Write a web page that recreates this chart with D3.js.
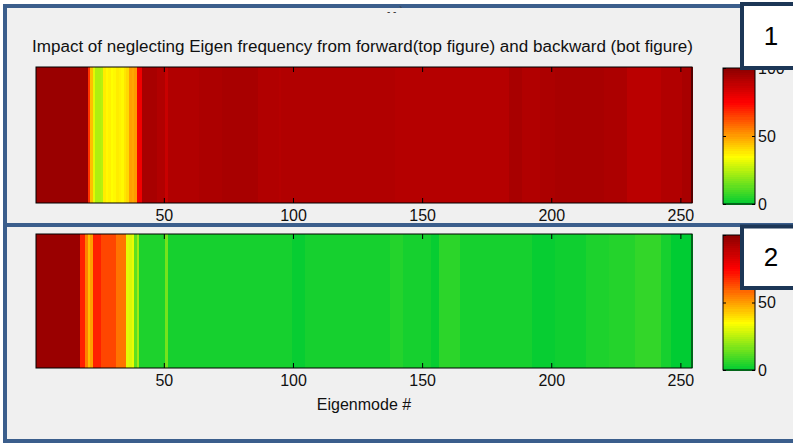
<!DOCTYPE html>
<html>
<head>
<meta charset="utf-8">
<script src="https://cdn.jsdelivr.net/npm/d3@7"></script>
<style>
  body { margin: 0; background: #fff; }
  svg { display: block; font-family: "Liberation Sans", Arial, sans-serif; }
</style>
</head>
<body>
<svg width="793" height="443"></svg>
<script>
// impact (%) per eigenmode, forward problem (top strip)
const forward = [
  97, 97, 97, 97, 97, 97, 97, 97, 97, 97,
  97, 97, 97, 97, 97, 97, 97, 97, 97, 97,
  67, 45, 31, 24, 24, 25, 38, 36, 37, 35,
  36, 38, 37, 36, 39, 41, 50, 49, 51, 77,
  78, 94, 94, 94, 94, 94, 94, 92, 92, 92,
  87, 92, 92, 92, 92, 92, 92, 92, 92, 92,
  92, 92, 92, 93, 93, 93, 93, 93, 93, 93,
  93, 93, 94, 94, 94, 94, 94, 94, 94, 94,
  94, 94, 94, 94, 94, 94, 92, 92, 92, 92,
  92, 92, 92, 92, 91, 92, 92, 92, 92, 92,
  92, 92, 92, 92, 92, 92, 92, 92, 92, 92,
  92, 92, 92, 92, 92, 92, 92, 92, 92, 92,
  92, 92, 92, 92, 92, 92, 92, 92, 92, 92,
  92, 92, 92, 92, 92, 92, 92, 92, 92, 91,
  91, 91, 91, 91, 91, 91, 91, 91, 91, 91,
  91, 91, 91, 91, 91, 91, 91, 91, 91, 91,
  91, 91, 91, 91, 91, 91, 91, 91, 91, 91,
  91, 91, 91, 91, 91, 91, 91, 91, 91, 91,
  91, 91, 91, 94, 94, 94, 94, 94, 92, 92,
  92, 92, 92, 92, 92, 93, 93, 93, 93, 93,
  93, 94, 94, 94, 94, 94, 94, 94, 94, 94,
  94, 94, 94, 94, 94, 94, 94, 94, 94, 94,
  93, 93, 93, 93, 93, 93, 93, 93, 93, 90,
  90, 90, 90, 90, 90, 90, 90, 90, 90, 90,
  90, 90, 92, 92, 92, 92, 92, 92, 92, 92,
  94, 94, 94, 94
];

// impact (%) per eigenmode, backward problem (bottom strip)
const backward = [
  97, 97, 97, 97, 97, 97, 97, 97, 97, 97,
  97, 97, 97, 97, 97, 97, 97, 70, 70, 55,
  45, 50, 70, 70, 70, 64, 64, 64, 64, 64,
  64, 57, 57, 57, 57, 31, 30, 32, 13, 22,
  4, 4, 4, 4, 4, 4, 4, 4, 4, 4,
  16, 3, 3, 3, 3, 3, 3, 3, 3, 3,
  3, 3, 3, 3, 3, 3, 3, 3, 3, 3,
  3, 3, 3, 3, 3, 3, 3, 3, 3, 3,
  3, 3, 3, 3, 3, 3, 3, 3, 3, 3,
  3, 3, 3, 3, 3, 3, 3, 3, 3, 1,
  1, 1, 1, 1, 3, 3, 3, 3, 3, 3,
  3, 3, 3, 3, 3, 3, 3, 3, 3, 3,
  3, 3, 3, 3, 3, 3, 3, 3, 3, 3,
  3, 3, 3, 3, 3, 3, 3, 5, 5, 5,
  5, 5, 3, 3, 3, 3, 3, 3, 3, 3,
  3, 3, 3, 1, 1, 1, 6, 6, 6, 6,
  6, 6, 6, 6, 3, 3, 3, 3, 3, 3,
  3, 3, 3, 3, 3, 3, 3, 3, 3, 3,
  3, 3, 3, 3, 3, 3, 3, 3, 3, 3,
  3, 3, 1, 1, 1, 1, 1, 1, 1, 1,
  1, 2, 2, 2, 2, 2, 2, 2, 2, 2,
  2, 2, 2, 4, 4, 4, 4, 4, 4, 4,
  4, 4, 5, 5, 5, 5, 5, 5, 5, 5,
  5, 5, 7, 7, 7, 7, 7, 7, 7, 7,
  7, 7, 3, 3, 3, 3, 0, 0, 0, 0,
  0, 0, 0, 0
];

const xTicks = [50, 100, 150, 200, 250];
const cbarTicks = [0, 50, 100];
const title = "Impact of neglecting Eigen frequency from forward(top figure) and backward (bot figure)";
const xLabel = "Eigenmode #";
const panelLabels = ["1", "2"];

const svg = d3.select("svg");

// green -> yellow -> red -> dark red
const color = d3.scaleLinear()
  .domain([0, 35, 75, 100])
  .range(["#00cc33", "#ffff00", "#ff0000", "#8c0000"])
  .clamp(true);

const x = d3.scaleLinear().domain([0.5, forward.length + 0.5]).range([36, 692]);

// blue frames around the two panels
const frameBlue = "#3b5e8c";
svg.append("rect").attr("x", 5).attr("y", 6).attr("width", 820).attr("height", 219)
  .attr("fill", "#f0f0f0").attr("stroke", frameBlue).attr("stroke-width", 4);
svg.append("rect").attr("x", 5).attr("y", 225).attr("width", 820).attr("height", 216)
  .attr("fill", "#f0f0f0").attr("stroke", frameBlue).attr("stroke-width", 4);

// cut-off leftover text at the top
svg.append("text").attr("x", 387).attr("y", 15).attr("font-size", 10).attr("fill", "#333").text("- - `");

svg.append("text")
  .attr("x", 32).attr("y", 52)
  .attr("font-size", 16)
  .attr("textLength", 661).attr("lengthAdjust", "spacingAndGlyphs")
  .attr("fill", "#111")
  .text(title);

function strip(values, top, bottom, cbTop, cbBottom) {
  const g = svg.append("g");
  g.selectAll("rect.cell")
    .data(values)
    .enter().append("rect")
    .attr("class", "cell")
    .attr("x", (d, i) => x(i + 0.5))
    .attr("width", (d, i) => x(i + 1.5) - x(i + 0.5) + 0.6)
    .attr("y", top)
    .attr("height", bottom - top)
    .attr("shape-rendering", "crispEdges")
    .attr("fill", d => color(d));

  // ticks inward on top and bottom
  g.append("g")
    .attr("transform", `translate(0,${bottom})`)
    .call(d3.axisBottom(x).tickValues(xTicks).tickSize(-5).tickPadding(7))
    .call(a => a.select(".domain").remove())
    .call(a => a.selectAll("text").attr("font-size", 16).attr("font-family", null).attr("fill", "#111"));
  g.append("g")
    .attr("transform", `translate(0,${top})`)
    .call(d3.axisTop(x).tickValues(xTicks).tickSize(-5).tickFormat(""))
    .call(a => a.select(".domain").remove());

  g.append("rect")
    .attr("x", x.range()[0]).attr("y", top)
    .attr("width", x.range()[1] - x.range()[0]).attr("height", bottom - top)
    .attr("fill", "none").attr("stroke", "#000");

  // colorbar
  const cy = d3.scaleLinear().domain([0, 100]).range([cbBottom, cbTop]);
  const levels = d3.range(64).map(i => i * 100 / 64);
  const cb = svg.append("g");
  cb.selectAll("rect")
    .data(levels)
    .enter().append("rect")
    .attr("x", 723).attr("width", 32)
    .attr("y", d => cy(d + 100 / 64))
    .attr("height", d => cy(d) - cy(d + 100 / 64) + 0.6)
    .attr("shape-rendering", "crispEdges")
    .attr("fill", d => color(d + 50 / 64));
  cb.append("g")
    .attr("transform", "translate(755,0)")
    .call(d3.axisRight(cy).tickValues(cbarTicks).tickSize(-3).tickPadding(3))
    .call(a => a.select(".domain").remove())
    .call(a => a.selectAll("text").attr("font-size", 16).attr("font-family", null).attr("fill", "#111"));
  cb.append("g")
    .attr("transform", "translate(723,0)")
    .call(d3.axisLeft(cy).tickValues(cbarTicks).tickSize(-3).tickFormat(""))
    .call(a => a.select(".domain").remove());
  cb.append("rect")
    .attr("x", 723).attr("y", cbTop).attr("width", 32).attr("height", cbBottom - cbTop)
    .attr("fill", "none").attr("stroke", "#000");
}

strip(forward, 67, 203, 68, 204);
strip(backward, 234, 368, 235, 370);

svg.append("text")
  .attr("x", (x.range()[0] + x.range()[1]) / 2).attr("y", 410)
  .attr("text-anchor", "middle").attr("font-size", 16).attr("fill", "#111")
  .text(xLabel);

// numbered boxes on the right edge
const boxes = [{ y: 4, h: 64 }, { y: 226.5, h: 61.5 }];
boxes.forEach((b, i) => {
  svg.append("rect").attr("x", 742).attr("y", b.y).attr("width", 80).attr("height", b.h)
    .attr("fill", "#fff").attr("stroke", "#1c3656").attr("stroke-width", 4);
  svg.append("text")
    .attr("x", 771).attr("y", b.y + b.h / 2 + 9)
    .attr("text-anchor", "middle").attr("font-size", 26).attr("fill", "#000")
    .text(panelLabels[i]);
});
</script>
</body>
</html>
